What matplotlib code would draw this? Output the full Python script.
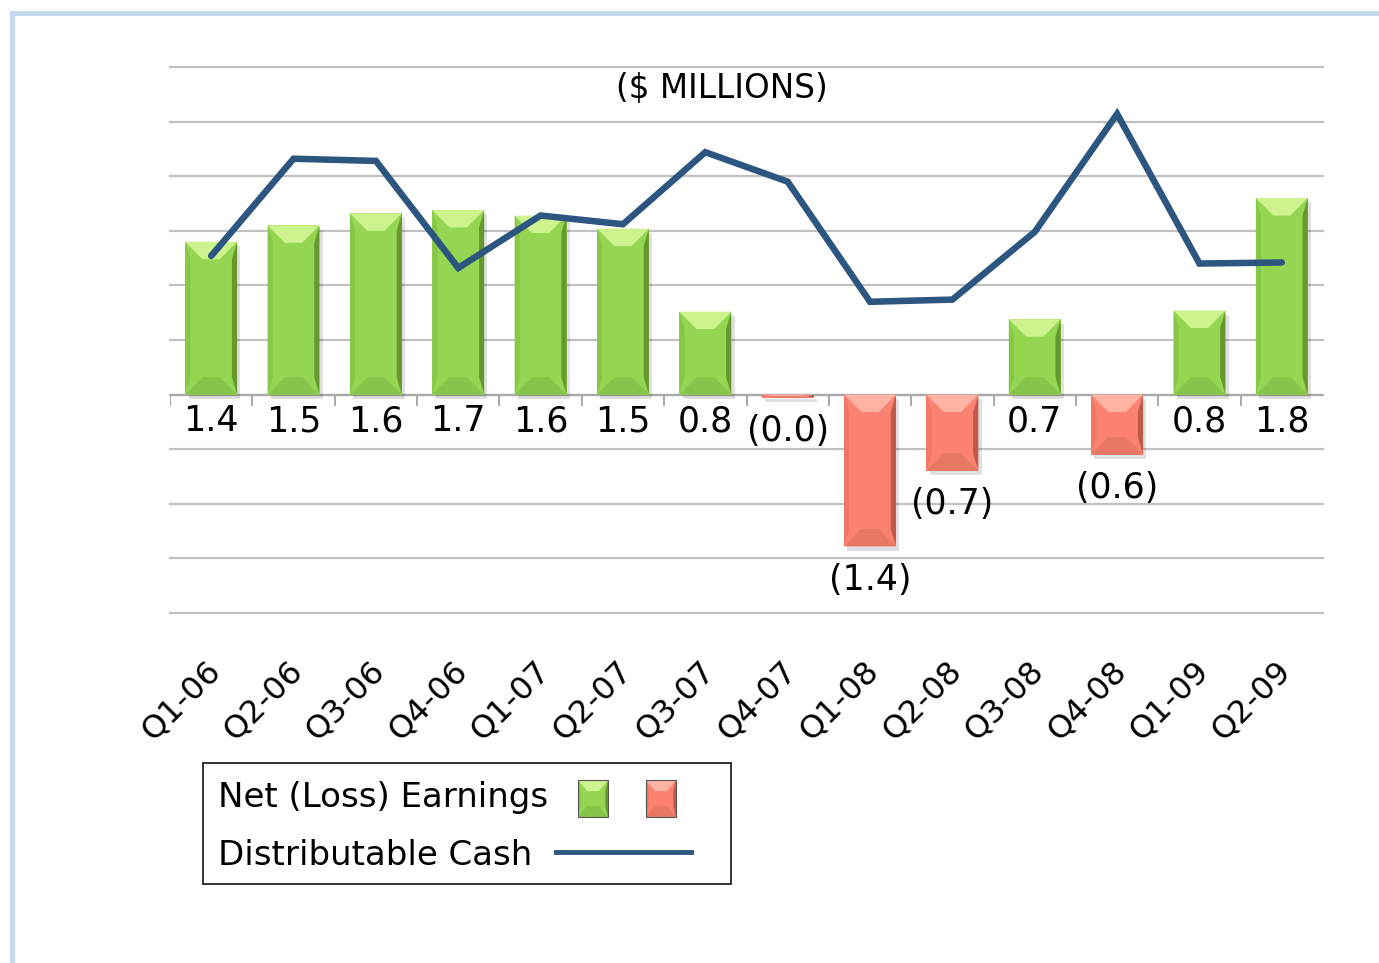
import numpy as np
import matplotlib
matplotlib.use('Agg')
import matplotlib.pyplot as plt
from matplotlib.patches import Polygon, Rectangle
from matplotlib.lines import Line2D

plt.rcParams['font.family'] = ['DejaVu Sans']

# data ($ millions)
quarters = ['Q1-06', 'Q2-06', 'Q3-06', 'Q4-06', 'Q1-07', 'Q2-07', 'Q3-07',
            'Q4-07', 'Q1-08', 'Q2-08', 'Q3-08', 'Q4-08', 'Q1-09', 'Q2-09']
net_earnings = [1.40, 1.55, 1.66, 1.69, 1.64, 1.52, 0.76,
                -0.03, -1.39, -0.70, 0.69, -0.55, 0.77, 1.80]
earnings_labels = ['1.4', '1.5', '1.6', '1.7', '1.6', '1.5', '0.8',
                   '(0.0)', '(1.4)', '(0.7)', '0.7', '(0.6)', '0.8', '1.8']
distributable_cash = [1.27, 2.16, 2.14, 1.16, 1.64, 1.56, 2.22,
                      1.95, 0.85, 0.87, 1.49, 2.57, 1.20, 1.21]

GREEN = dict(face='#94d652', light='#cdf38f', side='#86c748', dark='#66982f', bottom='#86c54a')
RED = dict(face='#fb8270', light='#ffb3a3', side='#ef7864', dark='#c05a48', bottom='#e87763')
LINE_COLOR = '#2c5580'
GRID = '#c0c0c0'

W, H = 1379, 963


def bevel(add, x0, x1, yb, yt, dx, dy, c, transform, z=2):
    # flat "beveled" bar: face, side strips, light top, darker bottom
    h = yt - yb
    dy = min(dy, h / 2)
    sx = dx * 0.3
    add(Polygon([(x0, yb), (x1, yb), (x1, yt), (x0, yt)], closed=True,
                facecolor=c['face'], edgecolor='none', transform=transform, zorder=z))
    add(Polygon([(x0, yb), (x0, yt), (x0 + sx, yt - dy), (x0 + sx, yb + dy)], closed=True,
                facecolor=c['side'], edgecolor='none', transform=transform, zorder=z + 0.1))
    add(Polygon([(x1, yb), (x1, yt), (x1 - sx, yt - dy), (x1 - sx, yb + dy)], closed=True,
                facecolor=c['dark'], edgecolor='none', transform=transform, zorder=z + 0.1))
    add(Polygon([(x0, yt), (x1, yt), (x1 - dx, yt - dy), (x0 + dx, yt - dy)], closed=True,
                facecolor=c['light'], edgecolor='none', transform=transform, zorder=z + 0.2))
    add(Polygon([(x0, yb), (x1, yb), (x1 - dx, yb + dy), (x0 + dx, yb + dy)], closed=True,
                facecolor=c['bottom'], edgecolor='none', transform=transform, zorder=z + 0.2))


fig = plt.figure(figsize=(W / 100, H / 100), dpi=100)
ax = fig.add_axes([170 / W, 1 - 613 / H, (1323 - 170) / W, (613 - 67) / H])

x = np.arange(len(quarters))
bar_w = 0.63

# grid
for g in np.arange(-2, 3.01, 0.5):
    ax.axhline(g, color=GRID, lw=1.6, zorder=0, clip_on=False)
ax.axhline(0, color='#a8a8a8', lw=1.6, zorder=1)
ax.vlines(np.arange(len(quarters)) - 0.5, 0, -0.1, color='#a8a8a8', lw=1.4, zorder=1)

# bars
for xi, v, lab in zip(x, net_earnings, earnings_labels):
    c = GREEN if v >= 0 else RED
    yb, yt = min(v, 0), max(v, 0)
    ax.add_patch(Rectangle((xi - bar_w / 2 + 0.04, yb - 0.04), bar_w, yt - yb,
                           facecolor='#000000', alpha=0.12, edgecolor='none', zorder=1.5))
    bevel(ax.add_patch, xi - bar_w / 2, xi + bar_w / 2, yb, yt, 0.21, 0.16, c, ax.transData)
    if v >= 0:
        ax.text(xi, -0.09, lab, ha='center', va='top', fontsize=25, zorder=5)
    else:
        ax.text(xi, v - 0.15, lab, ha='center', va='top', fontsize=25, zorder=5)

# distributable cash line
ax.plot(x, distributable_cash, color=LINE_COLOR, lw=4.7, solid_capstyle='round',
        solid_joinstyle='miter', zorder=6)

ax.text(0.479, 2.80, '($ MILLIONS)', transform=ax.get_yaxis_transform(),
        ha='center', va='center', fontsize=23.5)

# rotated category labels
for xi, q in zip(x, quarters):
    ax.text(xi - 0.08, -2.39, q, rotation=45, rotation_mode='anchor',
            ha='right', va='top', fontsize=23, clip_on=False)

ax.set_xlim(-0.5, 13.5)
ax.set_ylim(-2, 3)
ax.axis('off')

# legend box drawn in pixel-ish figure coords
def fx(px):
    return px / W


def fy(py):
    return 1 - py / H


fig.add_artist(Rectangle((fx(203), fy(884)), fx(731) - fx(203), fy(763) - fy(884),
                         transform=fig.transFigure, facecolor='white',
                         edgecolor='#222222', lw=1.3))
fig.text(fx(218), fy(797), 'Net (Loss) Earnings', fontsize=24.5, va='center', ha='left')
fig.text(fx(218), fy(855), 'Distributable Cash', fontsize=24.5, va='center', ha='left')
for c, left in [(GREEN, 578), (RED, 646)]:
    bevel(fig.add_artist, fx(left), fx(left + 30), fy(817), fy(780),
          fx(9), 11 / H, c, fig.transFigure, z=3)
    fig.add_artist(Rectangle((fx(left), fy(817)), fx(30), 37 / H, transform=fig.transFigure,
                             facecolor='none', edgecolor='#555555', lw=0.8, zorder=4))
fig.add_artist(Line2D([fx(556), fx(691)], [fy(852), fy(852)], color=LINE_COLOR, lw=3.5,
                      transform=fig.transFigure))

# light blue frame at top and left
fig.add_artist(Line2D([fx(12), 1], [fy(13), fy(13)], color='#c6d9f1', lw=3.5,
                      transform=fig.transFigure))
fig.add_artist(Line2D([fx(12), fx(12)], [0, fy(13)], color='#c6d9f1', lw=3.5,
                      transform=fig.transFigure))

fig.savefig('out.png', dpi=100)
